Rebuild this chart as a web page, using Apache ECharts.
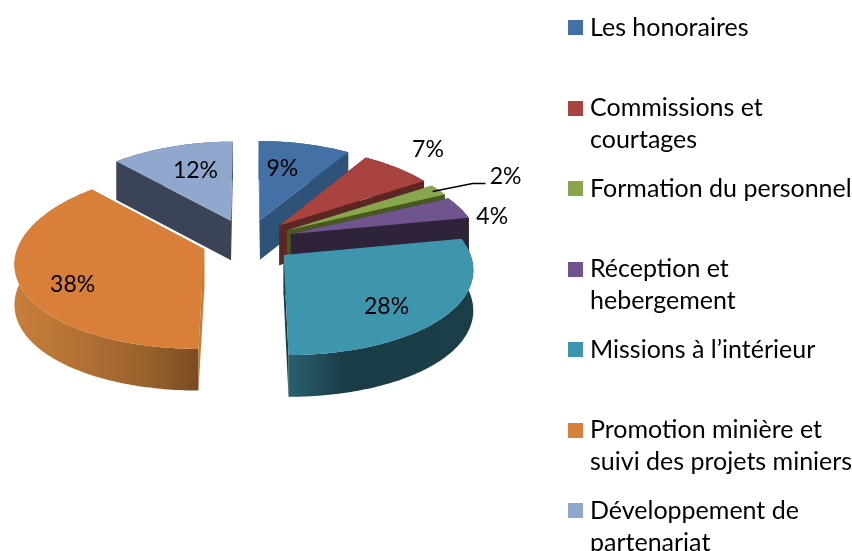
<!DOCTYPE html>
<html>
<head>
<meta charset="utf-8">
<style>
  html, body { margin: 0; padding: 0; background: #fff; }
  #chart { width: 852px; height: 551px; }
</style>
</head>
<body>
<div id="chart"></div>
<script src="https://cdn.jsdelivr.net/npm/echarts@6/dist/echarts.min.js"></script>
<script>
// categories and values
const names = [
  'Les honoraires',
  'Commissions et\ncourtages',
  'Formation du personnel',
  'Réception et\nhebergement',
  'Missions à l’intérieur',
  'Promotion minière et\nsuivi des projets miniers',
  'Développement de\npartenariat'
]
const shares = [9, 7, 2, 4, 28, 38, 12]

const topColors = ['#4371a5', '#a8433f', '#88a64b', '#6f548e', '#3e95ae', '#d87f39', '#91a8ce']
const sideColors = ['#2f5378', '#5c2624', '#47591f', '#2e2339', '#1a3c47', '#c47a38', '#3b4356']
// far slices first, so the near ones cover their walls
const drawOrder = [0, 6, 1, 2, 3, 5, 4]
// label spot per slice: radius fraction and angle shift from the slice middle
const labelRadius = [0.64, 1.33, 1.45, 1.13, 0.74, 0.76, 0.645]
const labelShift = [-4, -1, 2, 8, 8.5, -9, 2.3]

const FONT = 'Lato, "Open Sans", sans-serif'

// perspective of the 3D pie
const cx = 247.5
const cy = 240.7
const radiusX = 187
const apexX = 184
const radiusY = 88.3
const tilt = 0.117
const tiltX = 0.145
const explode = 0.25

// r is in pie radii, angle in degrees clockwise from the top
function slicePoint(mid, r, angle) {
  let m = mid * Math.PI / 180
  let a = angle * Math.PI / 180
  return {
    ex: explode * Math.sin(m),
    ey: explode * Math.cos(m),
    x: r * Math.sin(a),
    y: r * Math.cos(a)
  }
}

function upper(p) {
  return [
    cx + apexX * p.ex / (1 + tilt * (p.ey + p.y)) + radiusX * p.x / (1 + tiltX * p.y),
    cy - radiusY * p.ey / (1 + tilt * p.ey) - radiusY * p.y / (1 + tilt * p.y)
  ]
}

function lower(p) {
  let q = upper(p)
  return [q[0], q[1] + 40 - 1.5 * (p.ey + p.y)]
}

function sliceAngles(idx) {
  let before = shares.slice(0, idx).reduce((a, b) => a + b, 0)
  let total = shares.reduce((a, b) => a + b, 0)
  let start = before / total * 360
  let end = (before + shares[idx]) / total * 360
  return { start, end, mid: (start + end) / 2 }
}

function outerFill(idx) {
  if (idx === 5) {
    return new echarts.graphic.LinearGradient(0, 0, 1, 0, [
      { offset: 0, color: '#c87e3b' },
      { offset: 0.4, color: '#b06f33' },
      { offset: 0.75, color: '#95602b' },
      { offset: 1, color: '#7a4a22' }
    ])
  }
  if (idx === 4) {
    return new echarts.graphic.LinearGradient(0, 0, 1, 0, [
      { offset: 0, color: '#2b6070' },
      { offset: 0.3, color: '#1a3c47' },
      { offset: 1, color: '#1b3e49' }
    ])
  }
  return sideColors[idx]
}

function renderSlice(params, api) {
  let idx = api.value(0)
  let { start, end, mid } = sliceAngles(idx)
  let apex = slicePoint(mid, 0, 0)
  let arc = []
  for (let a = start; a < end; a += 1) arc.push(slicePoint(mid, 1, a))
  arc.push(slicePoint(mid, 1, end))

  let first = arc[0]
  let last = arc[arc.length - 1]
  let poly = (points, fill) => ({ type: 'polygon', shape: { points }, style: { fill } })
  let children = [
    poly(arc.map(upper).concat(arc.slice().reverse().map(lower)), outerFill(idx)),
    poly([upper(apex), upper(first), lower(first), lower(apex)], sideColors[idx]),
    poly([upper(apex), upper(last), lower(last), lower(apex)], sideColors[idx]),
    poly([upper(apex)].concat(arc.map(upper)), topColors[idx])
  ]
  return { type: 'group', children }
}

function renderLabel(params, api) {
  let idx = api.value(0)
  let { mid } = sliceAngles(idx)
  let spot = upper(slicePoint(mid, labelRadius[idx], mid + labelShift[idx]))
  let children = [{
    type: 'text',
    style: {
      text: api.value(1) + '%',
      x: spot[0],
      y: spot[1],
      align: 'center',
      verticalAlign: 'middle',
      font: '23px ' + FONT,
      fill: '#000'
    }
  }]
  // only the 2% slice has a leader line
  if (idx === 2) {
    let from = upper(slicePoint(mid, 0.96, mid))
    children.push({
      type: 'polyline',
      shape: { points: [from, [spot[0] - 33, spot[1] + 7], [spot[0] - 20, spot[1] + 7]] },
      style: { stroke: '#000', lineWidth: 1.5, fill: null }
    })
  }
  return { type: 'group', children }
}

const legendItems = []
names.forEach((name, i) => {
  let y = 27.5 + i * 80.5
  legendItems.push({
    type: 'rect',
    shape: { x: 568, y: Math.round(y - 7.5), width: 15, height: 15 },
    style: { fill: topColors[i] }
  })
  legendItems.push({
    type: 'text',
    x: 590,
    y: y - 16,
    style: { text: name, font: '25px ' + FONT, lineHeight: 32, fill: '#000' }
  })
})

const chart = echarts.init(document.getElementById('chart'))
chart.setOption({
  animation: false,
  graphic: { elements: legendItems },
  series: [{
    type: 'custom',
    coordinateSystem: 'none',
    silent: true,
    z: 2,
    renderItem: renderSlice,
    data: drawOrder.map(i => [i, shares[i]])
  }, {
    type: 'custom',
    coordinateSystem: 'none',
    silent: true,
    z: 3,
    renderItem: renderLabel,
    data: shares.map((v, i) => [i, v])
  }]
})
</script>
</body>
</html>
